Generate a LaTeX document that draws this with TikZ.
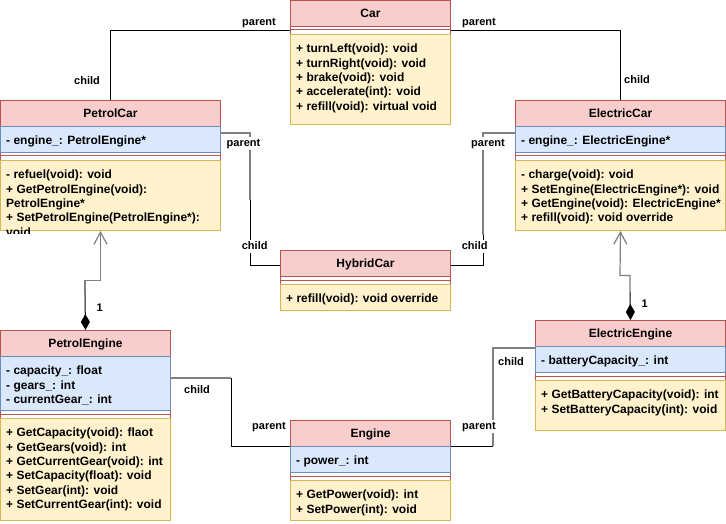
\documentclass[tikz,border=0pt]{standalone}
\usepackage{fontspec}
\setmainfont{Liberation Sans}
\usetikzlibrary{arrows.meta,calc}
\definecolor{hdrfill}{HTML}{F8CECC}
\definecolor{hdrline}{HTML}{B85450}
\definecolor{attfill}{HTML}{DAE8FC}
\definecolor{attline}{HTML}{6C8EBF}
\definecolor{metfill}{HTML}{FFF2CC}
\definecolor{metline}{HTML}{D6B656}
\definecolor{grayline}{HTML}{7F7F7F}
\newcommand\clsitemfont{\fontsize{12}{14.4}\selectfont\bfseries}
\newcommand\clstitlefont{\fontsize{12}{14.4}\selectfont\bfseries}
\newcommand\clslblfont{\fontsize{11}{13}\selectfont\bfseries}
\newcommand\fstrut{\rule{0pt}{11pt}}
\begin{document}
\begin{tikzpicture}[x=1pt,y=-1pt,
  outerbox/.style={draw=hdrline, fill=white, line width=1pt, inner sep=0pt, anchor=north west},
  hdr/.style={draw=hdrline, fill=hdrfill, line width=1pt, inner sep=0pt, anchor=north west, font=\clstitlefont, text height=8.6pt, text depth=0pt, minimum height=26pt},
  attbox/.style={draw=attline, fill=attfill, line width=1pt, inner sep=0pt, anchor=north west},
  metbox/.style={draw=metline, fill=metfill, line width=1pt, inner sep=0pt, anchor=north west},
  sepl/.style={draw=hdrline, line width=1pt},
  txt/.style={anchor=north west, inner sep=0pt, align=left, font=\clsitemfont},
  lbl/.style={fill=white, inner xsep=1pt, inner ysep=1.5pt, font=\clslblfont, text height=8pt, text depth=2pt},
  conn/.style={draw=black, line width=1pt},
  gconn/.style={draw=grayline, line width=1.2pt},
  diam/.style={{Diamond[length=16pt,width=9pt]}-},
  openarr/.style={-{Straight Barb[length=12pt,width=13pt]}},
]
\useasboundingbox (0,0) rectangle (726,524);
\fill[white] (0,0) rectangle (726,524);

% ---------- Car ----------
\node[outerbox, minimum width=160pt, minimum height=124pt] (car) at (290,0) {};
\node[hdr, minimum width=160pt] (carh) at (290,0) {Car};
\draw[sepl] (290,30) -- (450,30);
\node[metbox, minimum width=160pt, minimum height=90pt] (carm) at (290,34) {};
\node[txt] (carmt) at (296,41.5) {\fstrut+ turnLeft(void): void\\+ turnRight(void): void\\+ brake(void): void\\+ accelerate(int): void\\+ refill(void): virtual void};

% ---------- PetrolCar ----------
\node[outerbox, minimum width=220pt, minimum height=130pt] (pc) at (0,100) {};
\node[hdr, minimum width=220pt] (pch) at (0,100) {PetrolCar};
\node[attbox, minimum width=220pt, minimum height=26pt] (pca) at (0,126) {};
\node[txt] (pcat) at (6,133.5) {\fstrut- engine\_: PetrolEngine*};
\draw[sepl] (0,156) -- (220,156);
\node[metbox, minimum width=220pt, minimum height=70pt] (pcm) at (0,160) {};
\begin{scope}
\clip (0,160) rectangle (220,233);
\node[txt] (pcmt) at (6,167.5) {\fstrut- refuel(void): void\\+ GetPetrolEngine(void):\\PetrolEngine*\\+ SetPetrolEngine(PetrolEngine*):\\void};
\end{scope}

% ---------- ElectricCar ----------
\node[outerbox, minimum width=210pt, minimum height=130pt] (ec) at (515,100) {};
\node[hdr, minimum width=210pt] (ech) at (515,100) {ElectricCar};
\node[attbox, minimum width=210pt, minimum height=26pt] (eca) at (515,126) {};
\node[txt] (ecat) at (521,133.5) {\fstrut- engine\_: ElectricEngine*};
\draw[sepl] (515,156) -- (725,156);
\node[metbox, minimum width=210pt, minimum height=70pt] (ecm) at (515,160) {};
\node[txt] (ecmt) at (521,167.5) {\fstrut- charge(void): void\\+ SetEngine(ElectricEngine*): void\\+ GetEngine(void): ElectricEngine*\\+ refill(void): void override};

% ---------- HybridCar ----------
\node[outerbox, minimum width=170pt, minimum height=60pt] (hc) at (280,250) {};
\node[hdr, minimum width=170pt] (hch) at (280,250) {HybridCar};
\draw[sepl] (280,280) -- (450,280);
\node[metbox, minimum width=170pt, minimum height=26pt] (hcm) at (280,284) {};
\node[txt] (hcmt) at (286,291.5) {\fstrut+ refill(void): void override};

% ---------- PetrolEngine ----------
\node[outerbox, minimum width=170pt, minimum height=190pt] (pe) at (0,330) {};
\node[hdr, minimum width=170pt] (peh) at (0,330) {PetrolEngine};
\node[attbox, minimum width=170pt, minimum height=54pt] (pea) at (0,356) {};
\node[txt] (peat) at (6,363.5) {\fstrut- capacity\_: float\\- gears\_: int\\- currentGear\_: int};
\draw[sepl] (0,414) -- (170,414);
\node[metbox, minimum width=170pt, minimum height=102pt] (pem) at (0,418) {};
\node[txt] (pemt) at (6,425.5) {\fstrut+ GetCapacity(void): flaot\\+ GetGears(void): int\\+ GetCurrentGear(void): int\\+ SetCapacity(float): void\\+ SetGear(int): void\\+ SetCurrentGear(int): void};

% ---------- Engine ----------
\node[outerbox, minimum width=160pt, minimum height=100pt] (eng) at (290,420) {};
\node[hdr, minimum width=160pt] (engh) at (290,420) {Engine};
\node[attbox, minimum width=160pt, minimum height=26pt] (enga) at (290,446) {};
\node[txt] (engat) at (296,453.5) {\fstrut- power\_: int};
\draw[sepl] (290,476) -- (450,476);
\node[metbox, minimum width=160pt, minimum height=40pt] (engm) at (290,480) {};
\node[txt] (engmt) at (296,487.5) {\fstrut+ GetPower(void): int\\+ SetPower(int): void};

% ---------- ElectricEngine ----------
\node[outerbox, minimum width=190pt, minimum height=110pt] (ee) at (535,320) {};
\node[hdr, minimum width=190pt] (eeh) at (535,320) {ElectricEngine};
\node[attbox, minimum width=190pt, minimum height=26pt] (eea) at (535,346) {};
\node[txt] (eeat) at (541,353.5) {\fstrut- batteryCapacity\_: int};
\draw[sepl] (535,376) -- (725,376);
\node[metbox, minimum width=190pt, minimum height=50pt] (eem) at (535,380) {};
\node[txt] (eemt) at (541,387.5) {\fstrut+ GetBatteryCapacity(void): int\\+ SetBatteryCapacity(int): void};

% ---------- connectors ----------
% Car -> PetrolCar / ElectricCar
\draw[conn] ($(car.north west)+(0,31)$) -| (pc.north);
\draw[conn] ($(car.north east)+(0,31)$) -| (ec.north);

% PetrolCar -> HybridCar
\coordinate (a1) at (250,133);
\coordinate (a2) at (250,200);
\coordinate (a3) at (250,265);
\draw[gconn] ($(pc.north east)+(0,33)$) -- (a1) -- (a2);
\draw[conn] (a2) -- (a3) -- ($(hc.north west)+(0,15)$);

% ElectricCar -> HybridCar
\coordinate (b1) at (483,133);
\coordinate (b2) at (483,235);
\coordinate (b3) at (483,265);
\draw[gconn] ($(ec.north west)+(0,33)$) -- (b1) -- (b2);
\draw[conn] (b2) -- (b3) -- ($(hc.north east)+(0,15)$);

% PetrolEngine composition PetrolCar
\coordinate (c1) at (85,295);
\coordinate (c2) at (85,280.5);
\coordinate (c3) at (100.5,280.5);
\draw[conn,diam] (pe.north) -- (c1);
\draw[gconn,openarr] (c1) -- (c2) -- (c3) -- ($(pc.south west)+(100.5,0)$);

% ElectricEngine composition ElectricCar
\coordinate (d1) at (630,292);
\coordinate (d2) at (630,275.5);
\coordinate (d3) at (620,275.5);
\draw[conn,diam] (ee.north) -- (d1);
\draw[gconn,openarr] (d1) -- (d2) -- (d3) -- (ec.south);

% PetrolEngine -> Engine
\coordinate (e1) at (231,378);
\coordinate (e2) at (231,446);
\draw[gconn] ($(pe.north east)+(0,48)$) -- (e1);
\draw[conn] (e1) -- (e2) -- ($(eng.north west)+(0,26)$);

% ElectricEngine -> Engine
\coordinate (f1) at (493,348);
\coordinate (f2) at (493,446);
\draw[gconn] ($(ee.north west)+(0,28)$) -- (f1) -- (f2);
\draw[conn] (f2) -- ($(eng.north east)+(0,26)$);

% ---------- labels ----------
\node[lbl] (l1) at (259,23) {parent};
\node[lbl] (l2) at (87,82) {child};
\node[lbl] (l3) at (479,22.5) {parent};
\node[lbl] (l4) at (637,81) {child};
\node[lbl] (l5) at (243.5,143.3) {parent};
\node[lbl] (l6) at (254.7,246) {child};
\node[lbl] (l7) at (488,143.3) {parent};
\node[lbl] (l8) at (474.7,246) {child};
\node[lbl] (l9) at (99.7,308.3) {1};
\node[lbl] (l10) at (644.7,304) {1};
\node[lbl] (l11) at (197,390) {child};
\node[lbl] (l12) at (269,426.3) {parent};
\node[lbl] (l13) at (511,362) {child};
\node[lbl] (l14) at (479,426) {parent};
\end{tikzpicture}
\end{document}
